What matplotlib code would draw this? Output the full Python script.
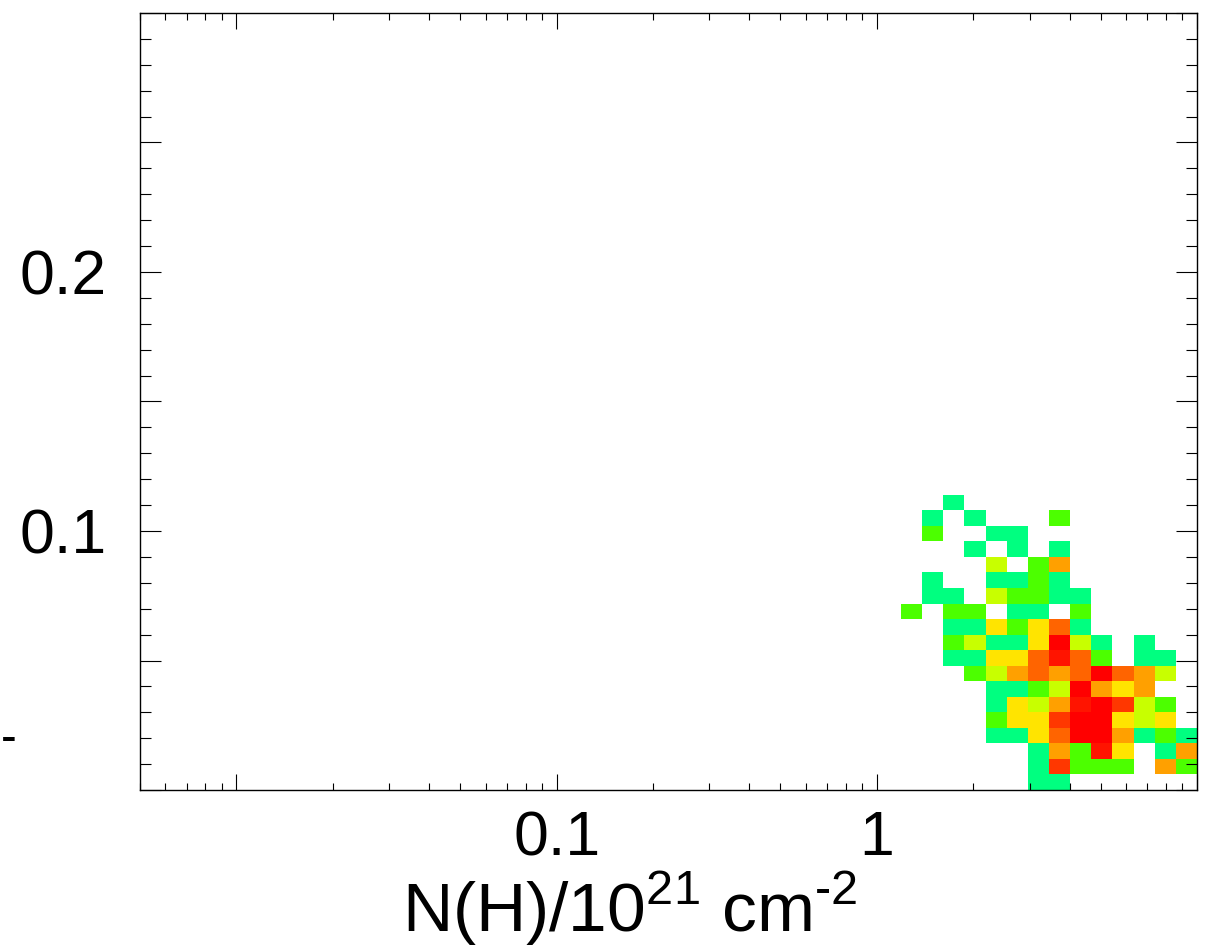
import numpy as np
import matplotlib
matplotlib.use('Agg')
import matplotlib.pyplot as plt
from matplotlib.colors import ListedColormap, BoundaryNorm
from matplotlib.ticker import FixedLocator, FuncFormatter

# histogram grid: 50 log bins in x (0.005..10), 50 linear bins in y (0..0.3)
x_min, x_max, n_x = 0.005, 10.0, 50
y_min, y_max, n_y = 0.0, 0.3, 50
first_col = 36   # data only in x bins 36..49
# colour level per cell (0 = empty), rows from y bin 0 upwards, cols 36..49
row_00 = [0, 0, 0, 0, 0, 0, 1, 1, 0, 0, 0, 0, 0, 0]
row_01 = [0, 0, 0, 0, 0, 0, 1, 7, 2, 2, 2, 0, 5, 2]
row_02 = [0, 0, 0, 0, 0, 0, 1, 5, 2, 8, 4, 0, 1, 5]
row_03 = [0, 0, 0, 0, 1, 1, 4, 6, 9, 9, 5, 1, 2, 1]
row_04 = [0, 0, 0, 0, 2, 4, 4, 7, 9, 9, 4, 3, 4, 0]
row_05 = [0, 0, 0, 0, 1, 4, 3, 5, 8, 9, 7, 3, 2, 0]
row_06 = [0, 0, 0, 0, 1, 1, 2, 3, 9, 5, 4, 5, 0, 0]
row_07 = [0, 0, 0, 2, 3, 5, 6, 5, 6, 9, 6, 5, 3, 0]
row_08 = [0, 0, 1, 1, 4, 4, 6, 8, 6, 2, 0, 1, 1, 0]
row_09 = [0, 0, 2, 3, 1, 1, 4, 9, 3, 1, 0, 1, 0, 0]
row_10 = [0, 0, 1, 1, 4, 2, 4, 6, 1, 0, 0, 0, 0, 0]
row_11 = [2, 0, 2, 2, 0, 1, 1, 0, 2, 0, 0, 0, 0, 0]
row_12 = [0, 1, 1, 0, 3, 2, 2, 1, 1, 0, 0, 0, 0, 0]
row_13 = [0, 1, 0, 0, 1, 1, 2, 1, 0, 0, 0, 0, 0, 0]
row_14 = [0, 0, 0, 0, 3, 0, 2, 5, 0, 0, 0, 0, 0, 0]
row_15 = [0, 0, 0, 1, 0, 1, 0, 1, 0, 0, 0, 0, 0, 0]
row_16 = [0, 2, 0, 0, 1, 1, 0, 0, 0, 0, 0, 0, 0, 0]
row_17 = [0, 1, 0, 1, 0, 0, 0, 2, 0, 0, 0, 0, 0, 0]
row_18 = [0, 0, 1, 0, 0, 0, 0, 0, 0, 0, 0, 0, 0, 0]
rows = [row_00, row_01, row_02, row_03, row_04, row_05, row_06, row_07, row_08,
        row_09, row_10, row_11, row_12, row_13, row_14, row_15, row_16, row_17, row_18]

level_colors = ['#00FF80', '#4CFF00', '#C8FF00', '#FFE400', '#FFA000',
                '#FF6400', '#FF3700', '#FF1400', '#FF0000']

x_tick_labels = {0.1: '0.1', 1.0: '1'}
y_tick_labels = {0.1: '0.1', 0.2: '0.2'}

plt.rcParams['font.family'] = ['Liberation Sans', 'DejaVu Sans']
plt.rcParams['mathtext.fontset'] = 'custom'
plt.rcParams['mathtext.rm'] = 'Liberation Sans'

# full grid
grid = np.zeros((n_y, n_x))
for i, r in enumerate(rows):
    grid[i, first_col:first_col + len(r)] = r
grid = np.ma.masked_equal(grid, 0)

x_edges = np.logspace(np.log10(x_min), np.log10(x_max), n_x + 1)
y_edges = np.linspace(y_min, y_max, n_y + 1)

fig = plt.figure(figsize=(12.08, 9.51), dpi=100)
ax = fig.add_axes([140 / 1208, 161 / 951, 1057 / 1208, 777 / 951])

cmap = ListedColormap(level_colors)
norm = BoundaryNorm(np.arange(0.5, len(level_colors) + 1), cmap.N)
ax.pcolormesh(x_edges, y_edges, grid, cmap=cmap, norm=norm)

ax.set_xscale('log')
ax.set_xlim(x_min, x_max)
ax.set_ylim(y_min, y_max)

ax.xaxis.set_major_locator(FixedLocator([0.01, 0.1, 1.0, 10.0]))
minors = [m * d for d in [0.001, 0.01, 0.1, 1.0] for m in range(2, 10)]
ax.xaxis.set_minor_locator(FixedLocator(minors))
ax.xaxis.set_major_formatter(FuncFormatter(
    lambda v, p: next((s for k, s in x_tick_labels.items() if abs(v - k) < 1e-9), '')))
ax.xaxis.set_minor_formatter(FuncFormatter(lambda v, p: ''))

ax.yaxis.set_major_locator(FixedLocator(np.arange(0, 0.31, 0.05)))
ax.yaxis.set_minor_locator(FixedLocator(np.arange(0, 0.301, 0.01)))
ax.yaxis.set_major_formatter(FuncFormatter(
    lambda v, p: next((s for k, s in y_tick_labels.items() if abs(v - k) < 1e-9), '')))

ax.tick_params(axis='x', which='major', direction='in', length=11.5, width=0.8,
               top=True, labelsize=45, pad=14)
ax.tick_params(axis='x', which='minor', direction='in', length=5, width=0.8, top=True)
ax.tick_params(axis='y', which='major', direction='in', length=15, width=0.8,
               right=True, labelsize=45, pad=24)
ax.tick_params(axis='y', which='minor', direction='in', length=8, width=0.8, right=True)
for s in ax.spines.values():
    s.set_linewidth(1.0)

fig.text(630 / 1208, 19 / 951, 'N(H)/10$^{21}$ cm$^{\u2010 2}$', fontsize=50,
         ha='center', va='baseline')
fig.text(1 / 1208, 1 - 740 / 951, '-', fontsize=34, ha='left', va='center')

fig.savefig('out.png', dpi=100)
